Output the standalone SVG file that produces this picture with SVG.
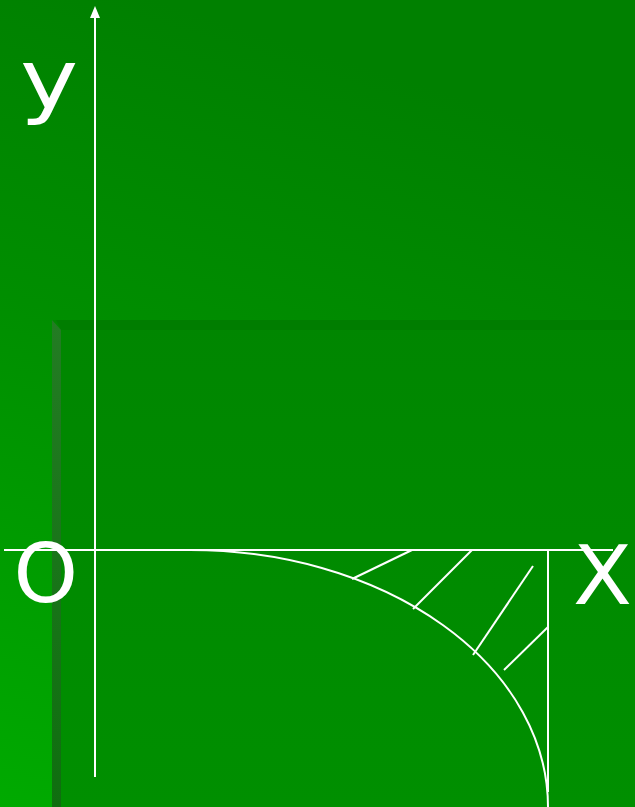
<svg xmlns="http://www.w3.org/2000/svg" width="635" height="807" viewBox="0 0 635 807">
<defs>
<linearGradient id="bg" x1="0.25" y1="0" x2="0" y2="1">
<stop offset="0" stop-color="#008000"/>
<stop offset="0.4" stop-color="#008e00"/>
<stop offset="1" stop-color="#00aa00"/>
</linearGradient>
<linearGradient id="panel" x1="0" y1="0" x2="0" y2="1">
<stop offset="0" stop-color="#008600"/>
<stop offset="1" stop-color="#008f00"/>
</linearGradient>
<linearGradient id="lstrip" x1="0" y1="0" x2="0" y2="1">
<stop offset="0" stop-color="#237c23"/>
<stop offset="1" stop-color="#0f6e0f"/>
</linearGradient>
<marker id="arr" markerWidth="12" markerHeight="10" refX="0" refY="5" orient="auto" markerUnits="userSpaceOnUse" viewBox="0 0 12 10">
<path d="M0,0 L12,5 L0,10 Z" fill="#ffffff"/>
</marker>
</defs>
<style>
.ln{stroke:#ffffff;fill:none;stroke-width:2}
.lbl{font-family:"DejaVu Sans",Verdana,sans-serif;font-size:82px;fill:#ffffff}
</style>
<rect x="0" y="0" width="635" height="807" fill="url(#bg)"/>
<g id="panel-box">
<rect x="52" y="320" width="583" height="487" fill="url(#panel)"/>
<polygon points="56,320 635,320 635,330 61,330" fill="#007d00"/>
<polygon points="52,320 61,330 61,807 52,807" fill="url(#lstrip)"/>
</g>
<g id="connectors">
<line id="y-axis" class="ln" x1="95" y1="777" x2="95" y2="18" marker-end="url(#arr)"/>
<line id="x-axis" class="ln" x1="4" y1="550" x2="613" y2="550"/>
<path id="curve" class="ln" stroke-width="1.8" d="M190,550 A358,257 0 0 1 548,807"/>
<line id="bound" class="ln" stroke-width="1.6" x1="548" y1="550" x2="548" y2="792"/>
<line class="ln" x1="352" y1="579" x2="412" y2="550"/>
<line class="ln" x1="413" y1="609" x2="472" y2="550"/>
<line class="ln" x1="473" y1="655" x2="533" y2="566"/>
<line class="ln" x1="504" y1="670" x2="548" y2="627"/>
</g>
<g id="label-y"><text class="lbl" transform="translate(20,108) scale(1.2,1)" x="0" y="0">y</text></g>
<g id="label-o"><text class="lbl" x="13.5" y="602">O</text></g>
<g id="label-x"><text class="lbl" transform="translate(573,604) scale(1.05,1)" x="0" y="0">X</text></g>
</svg>
